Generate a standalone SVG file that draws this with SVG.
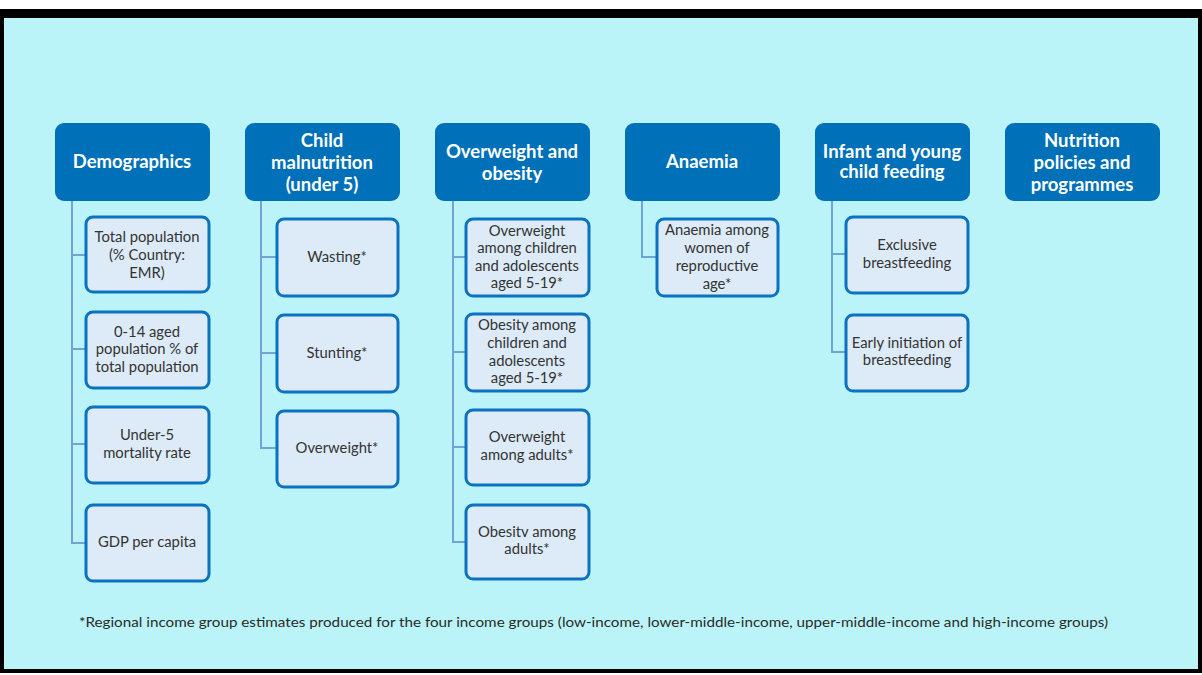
<svg xmlns="http://www.w3.org/2000/svg" width="1202" height="675" viewBox="0 0 1202 675">
<style>
.hdr{fill:#0070B8;}
.box{fill:#DCEBF7;stroke:#0A72C0;stroke-width:3;}
.ht{font-family:Lato,"Open Sans","Liberation Sans",sans-serif;font-weight:bold;font-size:18.5px;fill:#FFFFFF;text-anchor:middle;}
.bt{font-family:Lato,"Open Sans","Liberation Sans",sans-serif;font-size:14.8px;fill:#333333;text-anchor:middle;}
.con{fill:none;stroke:#6CA6D6;stroke-width:2;}
.fn{font-family:Lato,"Open Sans","Liberation Sans",sans-serif;font-size:14px;fill:#2A2A2A;}
</style>
<rect x="0" y="0" width="1202" height="675" fill="#FFFFFF"/>
<rect x="2" y="13" width="1198" height="658" fill="#BAF4F8" stroke="#000000" stroke-width="4"/>
<rect x="0" y="9" width="1202" height="9" fill="#000000"/>

<g id="connectors">
<path class="con" d="M72,201 V543 H85 M72,255 H85 M72,349 H85 M72,444 H85"/>
<path class="con" d="M261,201 V448 H277 M261,257 H277 M261,353 H277"/>
<path class="con" d="M453,201 V542 H466 M453,257 H466 M453,352 H466 M453,447 H466"/>
<path class="con" d="M642,201 V257 H657"/>
<path class="con" d="M832,201 V352 H845 M832,254 H845"/>
</g>

<g id="demographics">
<rect class="hdr" x="55" y="123" width="155" height="78" rx="9"/>
<text class="ht" x="132" y="168">Demographics</text>
</g>
<g id="total-population">
<rect class="box" x="86" y="217" width="123" height="75" rx="7"/>
<text class="bt" x="147" y="242">Total population</text>
<text class="bt" x="147" y="260">(% Country:</text>
<text class="bt" x="147" y="278">EMR)</text>
</g>
<g id="aged-0-14">
<rect class="box" x="86" y="312" width="123" height="76" rx="7"/>
<text class="bt" x="147" y="337">0-14 aged</text>
<text class="bt" x="147" y="354">population % of</text>
<text class="bt" x="147" y="372">total population</text>
</g>
<g id="under5-mortality">
<rect class="box" x="86" y="407" width="123" height="76" rx="7"/>
<text class="bt" x="147" y="440">Under-5</text>
<text class="bt" x="147" y="458">mortality rate</text>
</g>
<g id="gdp">
<rect class="box" x="86" y="505" width="123" height="76" rx="7"/>
<text class="bt" x="147" y="547">GDP per capita</text>
</g>

<g id="child-malnutrition">
<rect class="hdr" x="245" y="123" width="155" height="78" rx="9"/>
<text class="ht" x="322" y="147">Child</text>
<text class="ht" x="322" y="169">malnutrition</text>
<text class="ht" x="322" y="191">(under 5)</text>
</g>
<g id="wasting">
<rect class="box" x="277" y="219" width="121" height="77" rx="7"/>
<text class="bt" x="337" y="262">Wasting*</text>
</g>
<g id="stunting">
<rect class="box" x="277" y="315" width="121" height="77" rx="7"/>
<text class="bt" x="337" y="358">Stunting*</text>
</g>
<g id="overweight-u5">
<rect class="box" x="277" y="411" width="121" height="76" rx="7"/>
<text class="bt" x="337" y="453">Overweight*</text>
</g>

<g id="overweight-obesity">
<rect class="hdr" x="435" y="123" width="155" height="78" rx="9"/>
<text class="ht" x="512" y="158">Overweight and</text>
<text class="ht" x="512" y="180">obesity</text>
</g>
<g id="ow-children">
<rect class="box" x="466" y="219" width="123" height="77" rx="7"/>
<text class="bt" x="527" y="236">Overweight</text>
<text class="bt" x="527" y="253">among children</text>
<text class="bt" x="527" y="271">and adolescents</text>
<text class="bt" x="527" y="288">aged 5-19*</text>
</g>
<g id="ob-children">
<rect class="box" x="466" y="314" width="123" height="77" rx="7"/>
<text class="bt" x="527" y="330">Obesity among</text>
<text class="bt" x="527" y="348">children and</text>
<text class="bt" x="527" y="366">adolescents</text>
<text class="bt" x="527" y="383">aged 5-19*</text>
</g>
<g id="ow-adults">
<rect class="box" x="466" y="410" width="123" height="75" rx="7"/>
<text class="bt" x="527" y="442">Overweight</text>
<text class="bt" x="527" y="460">among adults*</text>
</g>
<g id="ob-adults">
<rect class="box" x="466" y="505" width="123" height="74" rx="7"/>
<text class="bt" x="527" y="537">Obesitv among</text>
<text class="bt" x="527" y="554">adults*</text>
</g>

<g id="anaemia">
<rect class="hdr" x="625" y="123" width="155" height="78" rx="9"/>
<text class="ht" x="702" y="168">Anaemia</text>
</g>
<g id="anaemia-women">
<rect class="box" x="657" y="219" width="121" height="77" rx="7"/>
<text class="bt" x="717" y="235">Anaemia among</text>
<text class="bt" x="717" y="253">women of</text>
<text class="bt" x="717" y="271">reproductive</text>
<text class="bt" x="717" y="289">age*</text>
</g>

<g id="iycf">
<rect class="hdr" x="815" y="123" width="155" height="78" rx="9"/>
<text class="ht" x="892" y="158">Infant and young</text>
<text class="ht" x="892" y="178">child feeding</text>
</g>
<g id="exclusive-bf">
<rect class="box" x="846" y="217" width="122" height="76" rx="7"/>
<text class="bt" x="907" y="250">Exclusive</text>
<text class="bt" x="907" y="268">breastfeeding</text>
</g>
<g id="early-bf">
<rect class="box" x="846" y="315" width="122" height="76" rx="7"/>
<text class="bt" x="907" y="348">Early initiation of</text>
<text class="bt" x="907" y="365">breastfeeding</text>
</g>

<g id="nutrition-policies">
<rect class="hdr" x="1005" y="123" width="155" height="78" rx="9"/>
<text class="ht" x="1082" y="147">Nutrition</text>
<text class="ht" x="1082" y="169">policies and</text>
<text class="ht" x="1082" y="191">programmes</text>
</g>

<text class="fn" x="79" y="627" textLength="1029" lengthAdjust="spacingAndGlyphs">*Regional income group estimates produced for the four income groups (low-income, lower-middle-income, upper-middle-income and high-income groups)</text>
</svg>
